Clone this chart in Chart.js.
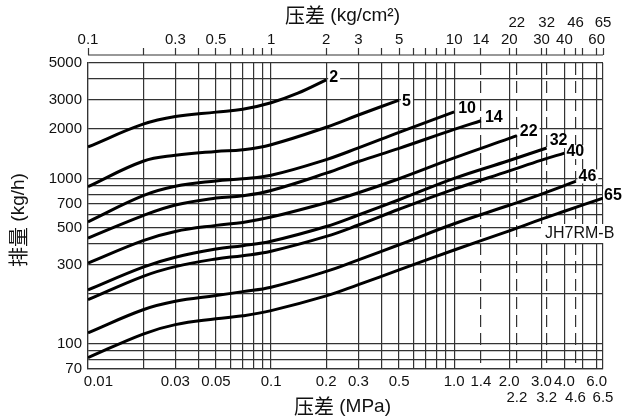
<!DOCTYPE html>
<html>
<head>
<meta charset="utf-8">
<script src="https://cdn.jsdelivr.net/npm/chart.js@4.4.0/dist/chart.umd.min.js"></script>
<style>
  html, body { margin: 0; padding: 0; background: #fff; }
</style>
</head>
<body>
<canvas id="chart" width="623" height="420"></canvas>
<script>
// Grid / tick values
const xGrid = [0.01, 0.02, 0.03, 0.04, 0.05, 0.06, 0.07, 0.08, 0.09,
  0.1, 0.2, 0.3, 0.4, 0.5, 0.6, 0.7, 0.8, 0.9,
  1.0, 1.4, 2.0, 2.2, 3.0, 3.2, 4.0, 4.6, 5.0, 6.0, 6.5];
const xDashed = [1.4, 2.2, 3.2, 4.6];
const xLabelVals = [0.01, 0.03, 0.05, 0.1, 0.2, 0.3, 0.5, 1.0, 1.4, 2.0, 3.0, 4.0, 6.0];
const xLabelText = ['     0.01', '0.03', '0.05', '0.1', '0.2', '0.3', '0.5', '1.0', '1.4', '2.0', '3.0', '4.0', '6.0'];
const xLabelVals2 = [2.2, 3.2, 4.6, 6.5];
const xLabelText2 = ['2.2', '3.2', '4.6', '6.5'];

const topGrid = [0.1, 0.2, 0.3, 0.4, 0.5, 0.6, 0.7, 0.8, 0.9,
  1, 2, 3, 4, 5, 6, 7, 8, 9,
  10, 14, 20, 22, 30, 32, 40, 46, 50, 60, 65];
const topLabelVals = [0.1, 0.3, 0.5, 1, 2, 3, 5, 10, 14, 20, 30, 40, 60];
const topLabelVals2 = [22, 32, 46, 65];

const yGrid = [70, 80, 90, 100, 200, 300, 400, 500, 600, 700, 800, 900, 1000, 2000, 3000, 4000, 5000];
const yLabelVals = [70, 100, 300, 500, 700, 1000, 2000, 3000, 5000];

// Curves: 压差 (MPa) vs 排量 (kg/h)
const curveNames = ['2', '5', '10', '14', '22', '32', '40', '46', '65'];
const p2 = [0.01, 0.02, 0.03, 0.05, 0.07, 0.1, 0.14, 0.2];
const w2 = [1550, 2130, 2370, 2520, 2620, 2870, 3280, 3950];
const p5 = [0.01, 0.02, 0.03, 0.05, 0.07, 0.1, 0.2, 0.3, 0.5];
const w5 = [890, 1270, 1380, 1455, 1490, 1600, 2040, 2420, 2980];
const p10 = [0.01, 0.02, 0.03, 0.05, 0.07, 0.1, 0.2, 0.3, 0.5, 1.0];
const w10 = [545, 785, 895, 965, 995, 1045, 1300, 1530, 1900, 2530];
const p14 = [0.01, 0.02, 0.03, 0.05, 0.07, 0.1, 0.2, 0.3, 0.5, 1.0, 1.4];
const w14 = [435, 595, 690, 760, 785, 845, 1075, 1265, 1520, 1980, 2235];
const p22 = [0.01, 0.02, 0.03, 0.05, 0.07, 0.1, 0.2, 0.3, 0.5, 1.0, 2.0, 2.2];
const w22 = [307, 420, 477, 519, 541, 583, 712, 818, 995, 1330, 1745, 1815];
const p32 = [0.01, 0.02, 0.03, 0.05, 0.07, 0.1, 0.2, 0.3, 0.5, 1.0, 2.0, 3.2];
const w32 = [211, 290, 333, 373, 391, 416, 511, 600, 742, 1000, 1283, 1527];
const p40 = [0.01, 0.02, 0.03, 0.05, 0.07, 0.1, 0.2, 0.3, 0.5, 1.0, 2.0, 3.0, 4.0];
const w40 = [184, 255, 292, 325, 340, 362, 445, 522, 650, 860, 1110, 1290, 1423];
const p46 = [0.01, 0.02, 0.03, 0.05, 0.07, 0.1, 0.2, 0.3, 0.5, 1.0, 2.0, 3.0, 4.6];
const w46 = [116, 160, 180, 195, 206, 219, 273, 321, 396, 531, 687, 803, 958];
const p65 = [0.01, 0.02, 0.03, 0.05, 0.07, 0.1, 0.2, 0.3, 0.5, 1.0, 2.0, 3.0, 4.0, 6.5];
const w65 = [82, 114, 130, 141, 147, 158, 194, 227, 279, 368, 481, 566, 632, 760];

const curvePress = [p2, p5, p10, p14, p22, p32, p40, p46, p65];
const curveFlow = [w2, w5, w10, w14, w22, w32, w40, w46, w65];

// label offsets from curve end (px)
const labelDx = [3, 3, 4, 4, 3, 3, 2, 3, 1];
const labelDy = [-2, 1, -3, -3, -4, -7, -1, -5, -2];

const gridColor = '#333';
const latin = '"Liberation Sans", Arial, sans-serif';
const cjk = '"Noto Sans CJK SC", "Noto Sans CJK JP", sans-serif';

function near(a, b) { return Math.abs(a - b) <= b * 1e-6; }
function inList(v, list) { return list.some(t => near(v, t)); }
function idxIn(v, list) { return list.findIndex(t => near(v, t)); }

const datasets = curveNames.map((name, i) => ({
    label: name,
    data: curvePress[i].map((p, j) => ({ x: p, y: curveFlow[i][j] })),
    borderColor: '#000',
    borderWidth: 3,
    pointRadius: 0,
    fill: false,
    tension: 0.4,
    xAxisID: 'x',
    yAxisID: 'y'
}));

// End labels, JH7RM-B tag, titles, top axis line
const decorPlugin = {
    id: 'decor',
    afterDraw(chart) {
        const ctx = chart.ctx;
        const area = chart.chartArea;
        ctx.save();

        // curve end labels
        ctx.font = 'bold 16px ' + latin;
        ctx.textBaseline = 'middle';
        ctx.textAlign = 'left';
        chart.data.datasets.forEach((ds, i) => {
            const pts = chart.getDatasetMeta(i).data;
            const last = pts[pts.length - 1];
            const tx = last.x + labelDx[i];
            const ty = last.y + labelDy[i];
            const w = ctx.measureText(ds.label).width;
            ctx.fillStyle = '#fff';
            ctx.fillRect(tx - 1, ty - 7, w + 3, 14);
            ctx.fillStyle = '#000';
            ctx.fillText(ds.label, tx, ty);
        });

        // model tag
        ctx.font = '16px ' + latin;
        ctx.fillStyle = '#fff';
        ctx.fillRect(541, 224, 78, 19);
        ctx.fillStyle = '#111';
        ctx.fillText('JH7RM-B', 545, 234);

        // top axis line
        const x2 = chart.scales.x2;
        ctx.strokeStyle = gridColor;
        ctx.lineWidth = 1.2;
        ctx.beginPath();
        ctx.moveTo(x2.getPixelForValue(0.1), area.top - 8);
        ctx.lineTo(x2.getPixelForValue(65), area.top - 8);
        ctx.stroke();

        // axis titles (mixed fonts)
        function mixed(cx, cy, a, b) {
            ctx.font = '20px ' + cjk;
            const wa = ctx.measureText(a).width;
            ctx.font = '19px ' + latin;
            const wb = ctx.measureText(b).width;
            const sx = cx - (wa + wb) / 2;
            ctx.textAlign = 'left';
            ctx.textBaseline = 'middle';
            ctx.fillStyle = '#111';
            ctx.font = '20px ' + cjk;
            ctx.fillText(a, sx, cy);
            ctx.font = '19px ' + latin;
            ctx.fillText(b, sx + wa, cy + 1);
        }
        const cx = (area.left + area.right) / 2 - 3;
        mixed(cx, 15, '压差', ' (kg/cm²)');
        mixed(cx, 406, '压差', ' (MPa)');
        ctx.save();
        ctx.translate(18, 220);
        ctx.rotate(-Math.PI / 2);
        mixed(0, 0, '排量', ' (kg/h)');
        ctx.restore();

        ctx.restore();
    }
};

const tickFont = { family: latin, size: 15, lineHeight: 1.12 };

new Chart(document.getElementById('chart'), {
    type: 'line',
    data: { datasets: datasets },
    options: {
        responsive: false,
        animation: false,
        layout: { padding: { left: 0, right: 20, top: 0, bottom: 0 } },
        plugins: { legend: { display: false }, tooltip: { enabled: false } },
        scales: {
            x: {
                type: 'logarithmic',
                position: 'bottom',
                min: 0.01,
                max: 6.5,
                afterBuildTicks: s => { s.ticks = xGrid.map(v => ({ value: v })); },
                afterFit: s => { s.height = 51; },
                grid: { color: gridColor, lineWidth: 1.2, drawTicks: false },
                border: {
                    display: true, color: gridColor, width: 1.2,
                    dash: c => (c.tick && inList(c.tick.value, xDashed)) ? [12, 6] : []
                },
                ticks: {
                    autoSkip: false, maxRotation: 0, padding: 4, color: '#111', font: tickFont,
                    callback: v => {
                        const i = idxIn(v, xLabelVals);
                        if (i >= 0) return xLabelText[i];
                        const k = idxIn(v, xLabelVals2);
                        if (k >= 0) return ['', xLabelText2[k]];
                        return '';
                    }
                }
            },
            x2: {
                type: 'logarithmic',
                position: 'top',
                min: 0.1,
                max: 65,
                afterBuildTicks: s => { s.ticks = topGrid.map(v => ({ value: v })); },
                afterFit: s => { s.height = 63; },
                grid: {
                    drawOnChartArea: false, drawTicks: true, tickLength: 15,
                    tickColor: gridColor, tickWidth: 1.2, tickBorderDash: [7, 8]
                },
                border: { display: false },
                ticks: {
                    autoSkip: false, maxRotation: 0, padding: 0, color: '#111', font: tickFont,
                    callback: v => {
                        if (inList(v, topLabelVals)) return String(v);
                        if (inList(v, topLabelVals2)) return [String(v), ''];
                        return '';
                    }
                }
            },
            y: {
                type: 'logarithmic',
                min: 70,
                max: 5000,
                afterBuildTicks: s => { s.ticks = yGrid.map(v => ({ value: v })); },
                afterFit: s => { s.width = 88; },
                grid: { color: gridColor, lineWidth: 1.2, drawTicks: false },
                border: { display: true, color: gridColor, width: 1.2 },
                ticks: {
                    autoSkip: false, padding: 6, color: '#111', font: tickFont,
                    callback: v => inList(v, yLabelVals) ? String(v) : ''
                }
            }
        }
    },
    plugins: [decorPlugin]
});
</script>
</body>
</html>
